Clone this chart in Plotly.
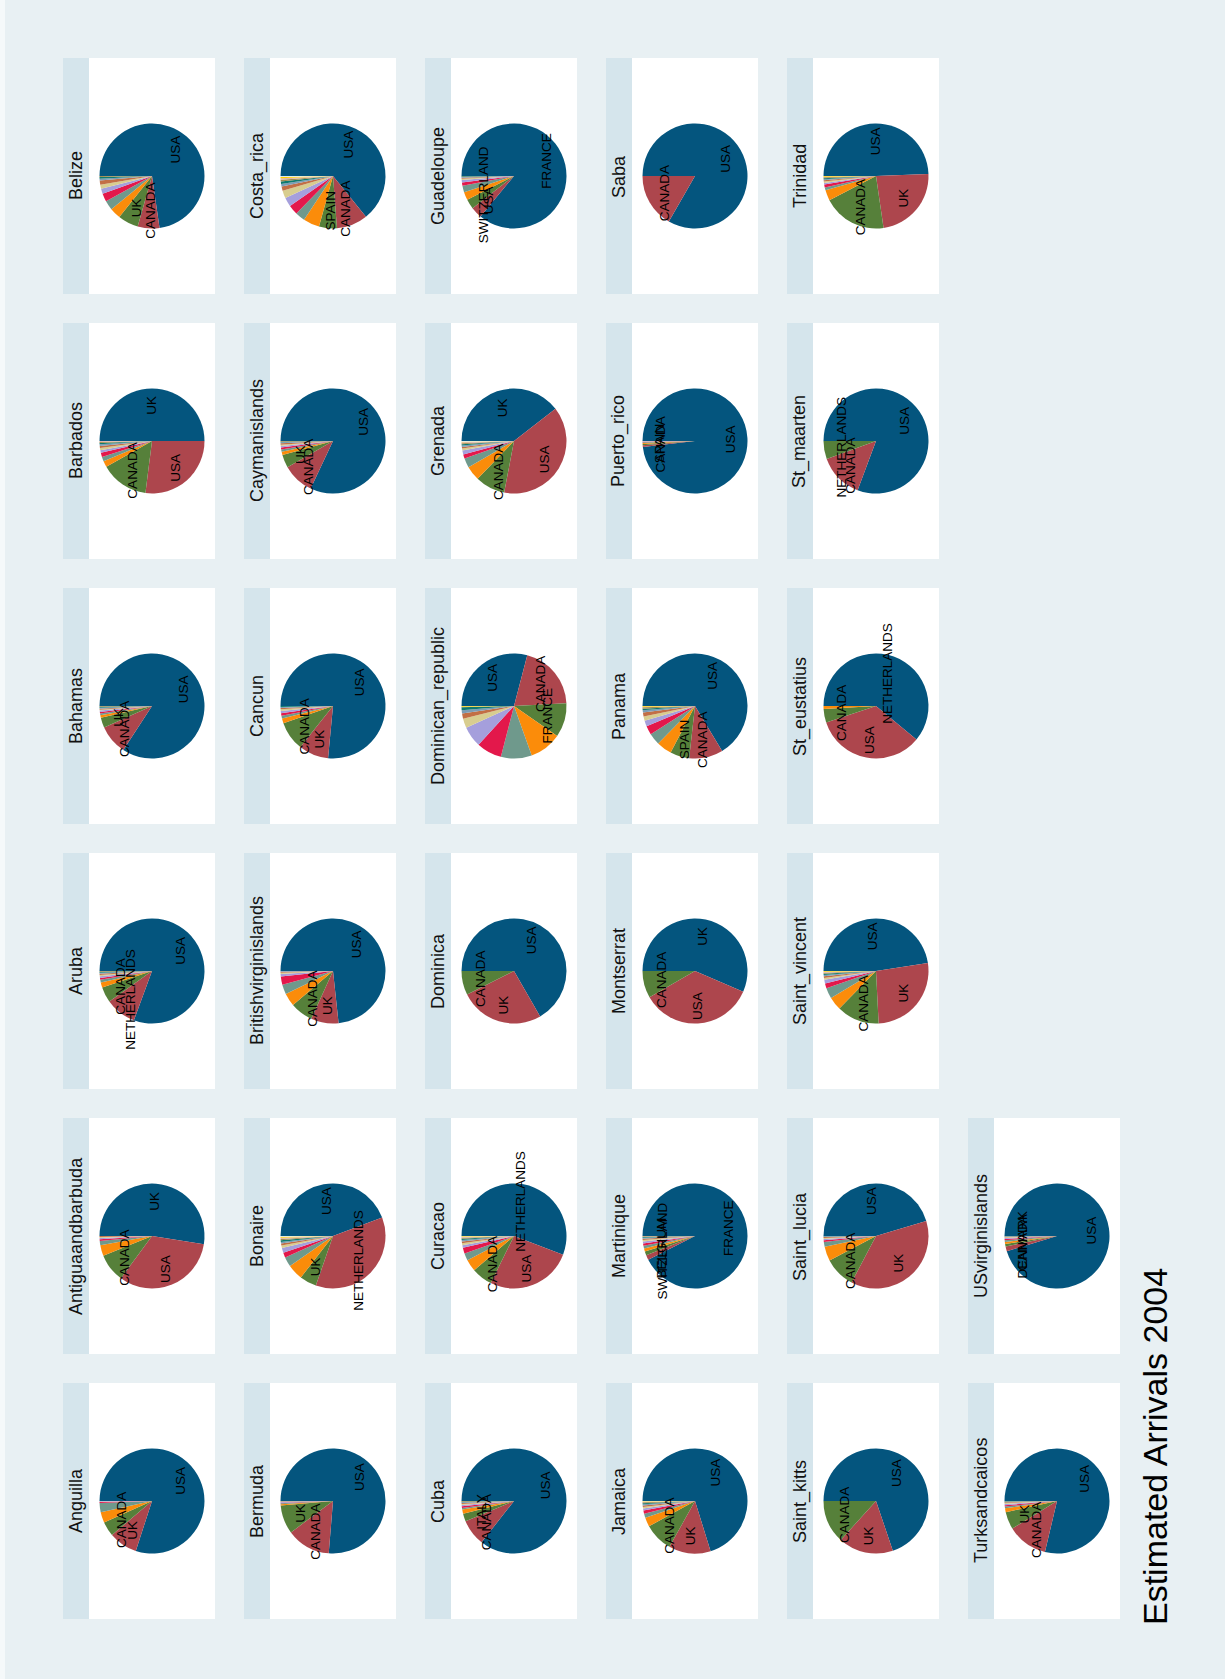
import math
import plotly.graph_objects as go

# ---------------- data ----------------
islands = [
    "Anguilla", "Antiguaandbarbuda", "Aruba", "Bahamas", "Barbados", "Belize",
    "Bermuda", "Bonaire", "Britishvirginislands", "Cancun", "Caymanislands", "Costa_rica",
    "Cuba", "Curacao", "Dominica", "Dominican_republic", "Grenada", "Guadeloupe",
    "Jamaica", "Martinique", "Montserrat", "Panama", "Puerto_rico", "Saba",
    "Saint_kitts", "Saint_lucia", "Saint_vincent", "St_eustatius", "St_maarten", "Trinidad",
    "Turksandcaicos", "USvirginislands",
]

# names of the three largest source countries (slice 1, 2, 3) in each pie
top_labels = [
    ["USA", "UK", "CANADA"], ["UK", "USA", "CANADA"], ["USA", "NETHERLANDS", "CANADA"],
    ["USA", "CANADA", "UK"], ["UK", "USA", "CANADA"], ["USA", "CANADA", "UK"],
    ["USA", "CANADA", "UK"], ["USA", "NETHERLANDS", "UK"], ["USA", "UK", "CANADA"],
    ["USA", "UK", "CANADA"], ["USA", "CANADA", "UK"], ["USA", "CANADA", "SPAIN"],
    ["USA", "CANADA", "ITALY"], ["NETHERLANDS", "USA", "CANADA"], ["USA", "UK", "CANADA"],
    ["USA", "CANADA", "FRANCE"], ["UK", "USA", "CANADA"], ["FRANCE", "USA", "SWITZERLAND"],
    ["USA", "UK", "CANADA"], ["FRANCE", "SWITZERLAND", "BELGIUM"], ["UK", "USA", "CANADA"],
    ["USA", "CANADA", "SPAIN"], ["USA", "CANADA", "SPAIN"], ["USA", "CANADA"],
    ["USA", "UK", "CANADA"], ["USA", "UK", "CANADA"], ["USA", "UK", "CANADA"],
    ["NETHERLANDS", "USA", "CANADA"], ["USA", "CANADA", "NETHERLANDS"], ["USA", "UK", "CANADA"],
    ["USA", "CANADA", "UK"], ["USA", "DENMARK", "CANADA"],
]

# estimated share of arrivals by source country, largest first
shares_anguilla = [0.800, 0.088, 0.045, 0.033, 0.028, 0.003, 0.002, 0.001]
shares_antigua = [0.525, 0.326, 0.088, 0.033, 0.013, 0.005, 0.004, 0.003, 0.003]
shares_aruba = [0.806, 0.095, 0.048, 0.016, 0.008, 0.006, 0.005, 0.004, 0.004, 0.003, 0.003, 0.002]
shares_bahamas = [0.842, 0.091, 0.031, 0.008, 0.005, 0.005, 0.004, 0.003, 0.003, 0.003, 0.003, 0.002]
shares_barbados = [0.500, 0.270, 0.148, 0.019, 0.014, 0.013, 0.008, 0.007, 0.006, 0.005, 0.004, 0.003, 0.003]
shares_belize = [0.727, 0.067, 0.063, 0.034, 0.029, 0.025, 0.016, 0.0125, 0.0125, 0.006, 0.005, 0.003]
shares_bermuda = [0.763, 0.135, 0.088, 0.004, 0.003, 0.002, 0.002, 0.001, 0.001, 0.001]
shares_bonaire = [0.443, 0.360, 0.052, 0.048, 0.030, 0.015, 0.015, 0.008, 0.006, 0.005, 0.005, 0.004, 0.004, 0.003, 0.002]
shares_bvi = [0.733, 0.085, 0.070, 0.040, 0.030, 0.025, 0.008, 0.004, 0.003, 0.002]
shares_cancun = [0.765, 0.092, 0.090, 0.015, 0.008, 0.008, 0.007, 0.005, 0.004, 0.003, 0.003]
shares_cayman = [0.820, 0.097, 0.040, 0.010, 0.007, 0.006, 0.005, 0.004, 0.004, 0.003, 0.002, 0.002]
shares_costa_rica = [0.642, 0.096, 0.055, 0.050, 0.030, 0.030, 0.028, 0.024, 0.013, 0.008, 0.007, 0.006, 0.004, 0.004, 0.003]
shares_cuba = [0.856, 0.081, 0.024, 0.013, 0.005, 0.005, 0.004, 0.003, 0.003, 0.002, 0.002, 0.002]
shares_curacao = [0.558, 0.265, 0.064, 0.037, 0.022, 0.018, 0.008, 0.006, 0.005, 0.005, 0.004, 0.003, 0.002, 0.002, 0.001]
shares_dominica = [0.667, 0.259, 0.074]
shares_dominican_rep = [0.291, 0.201, 0.105, 0.099, 0.095, 0.078, 0.064, 0.029, 0.016, 0.010, 0.009, 0.001, 0.001, 0.002]
shares_grenada = [0.395, 0.385, 0.092, 0.045, 0.029, 0.013, 0.012, 0.006, 0.005, 0.004, 0.004, 0.003, 0.003, 0.002, 0.002]
shares_guadeloupe = [0.860, 0.035, 0.030, 0.025, 0.020, 0.010, 0.008, 0.004, 0.003, 0.002, 0.002, 0.001]
shares_jamaica = [0.702, 0.129, 0.089, 0.028, 0.013, 0.010, 0.006, 0.005, 0.004, 0.004, 0.003, 0.003, 0.002, 0.001, 0.001]
shares_martinique = [0.925, 0.015, 0.012, 0.010, 0.008, 0.007, 0.006, 0.005, 0.004, 0.003, 0.002, 0.002, 0.001]
shares_montserrat = [0.565, 0.352, 0.083]
shares_panama = [0.663, 0.104, 0.059, 0.047, 0.036, 0.027, 0.018, 0.013, 0.012, 0.007, 0.005, 0.004, 0.002, 0.002]
shares_puerto_rico = [0.982, 0.005, 0.004, 0.003, 0.002, 0.002, 0.001, 0.001]
shares_saba = [0.833, 0.167]
shares_saint_kitts = [0.698, 0.169, 0.133]
shares_saint_lucia = [0.454, 0.374, 0.096, 0.044, 0.015, 0.005, 0.004, 0.003, 0.003, 0.002, 0.001]
shares_saint_vincent = [0.476, 0.266, 0.131, 0.041, 0.033, 0.015, 0.011, 0.006, 0.005, 0.004, 0.004, 0.003, 0.003, 0.002]
shares_st_eustatius = [0.610, 0.339, 0.042, 0.009]
shares_st_maarten = [0.807, 0.137, 0.056]
shares_trinidad = [0.494, 0.233, 0.197, 0.032, 0.009, 0.009, 0.005, 0.004, 0.004, 0.003, 0.003, 0.003, 0.002, 0.002]
shares_turks = [0.787, 0.125, 0.054, 0.012, 0.005, 0.004, 0.004, 0.003, 0.002, 0.002, 0.001, 0.001]
shares_usvi = [0.953, 0.015, 0.008, 0.006, 0.005, 0.004, 0.003, 0.002, 0.002, 0.001, 0.001]

shares = [
    shares_anguilla, shares_antigua, shares_aruba, shares_bahamas, shares_barbados, shares_belize,
    shares_bermuda, shares_bonaire, shares_bvi, shares_cancun, shares_cayman, shares_costa_rica,
    shares_cuba, shares_curacao, shares_dominica, shares_dominican_rep, shares_grenada, shares_guadeloupe,
    shares_jamaica, shares_martinique, shares_montserrat, shares_panama, shares_puerto_rico, shares_saba,
    shares_saint_kitts, shares_saint_lucia, shares_saint_vincent, shares_st_eustatius, shares_st_maarten,
    shares_trinidad, shares_turks, shares_usvi,
]

title_text = "Estimated Arrivals 2004"

# ---------------- styling ----------------
slice_colors = ["#04557e", "#ad464d", "#56803a", "#fb8c0a", "#6f998c", "#e3184b", "#a59fdc",
                "#d8cd8f", "#c26f45", "#7c9db6", "#0f7a6f", "#a08c4f", "#e0b5aa", "#ffd200", "#dde9ee"]
BG = "#e8f0f3"
STRIP = "#d5e5ec"
FONT = "Liberation Sans, Arial, sans-serif"

W, H = 1225, 1679
COL0, COLSTEP = 63, 181
ROW0, ROWSTEP = 58, 265
STRIP_W, PANEL_W, PANEL_H = 26, 126, 236
R = 52.5
LABEL_R = 0.67 * R


def fx(x):
    return x / W


def fy(y):
    return 1 - y / H


fig = go.Figure()
shapes = [dict(type="rect", xref="paper", yref="paper", x0=0, x1=fx(5), y0=0, y1=1,
               fillcolor="#f5f9fa", line_width=0, layer="below")]
annotations = []

for i, (name, vals, labs) in enumerate(zip(islands, shares, top_labels)):
    c = i // 6          # the whole graph is rotated by 90 degrees
    r = 5 - i % 6
    x0 = COL0 + c * COLSTEP
    y0 = ROW0 + r * ROWSTEP
    shapes.append(dict(type="rect", xref="paper", yref="paper",
                       x0=fx(x0), x1=fx(x0 + STRIP_W), y0=fy(y0 + PANEL_H), y1=fy(y0),
                       fillcolor=STRIP, line_width=0, layer="below"))
    shapes.append(dict(type="rect", xref="paper", yref="paper",
                       x0=fx(x0 + STRIP_W), x1=fx(x0 + STRIP_W + PANEL_W), y0=fy(y0 + PANEL_H), y1=fy(y0),
                       fillcolor="white", line_width=0, layer="below"))
    cx = x0 + STRIP_W + PANEL_W / 2
    cy = y0 + PANEL_H / 2
    annotations.append(dict(x=fx(x0 + STRIP_W / 2), y=fy(cy), xref="paper", yref="paper",
                            text=name, textangle=-90, showarrow=False,
                            xanchor="center", yanchor="middle",
                            font=dict(family=FONT, size=18, color="#111111")))
    slice_names = [labs[k] if k < len(labs) else f"other {k + 1}" for k in range(len(vals))]
    fig.add_trace(go.Pie(
        values=vals, labels=slice_names, sort=False, direction="clockwise", rotation=-90,
        marker=dict(colors=slice_colors[:len(vals)], line=dict(width=0)),
        textinfo="none", hoverinfo="label+percent", showlegend=False, name=name,
        domain=dict(x=[fx(cx - R), fx(cx + R)], y=[fy(cy + R), fy(cy - R)]),
    ))
    total = sum(vals)
    cum = 0.0
    for k, v in enumerate(vals):
        start, cum = cum, cum + v / total
        if k < len(labs):
            theta = math.radians(360 * (start + cum) / 2)
            lx = cx - LABEL_R * math.cos(theta)
            ly = cy - LABEL_R * math.sin(theta)
            annotations.append(dict(x=fx(lx), y=fy(ly), xref="paper", yref="paper",
                                    text=labs[k], textangle=-90, showarrow=False,
                                    xanchor="center", yanchor="middle",
                                    font=dict(family=FONT, size=13.5, color="black")))

annotations.append(dict(x=fx(1155), y=fy(1447), xref="paper", yref="paper",
                        text=title_text, textangle=-90, showarrow=False,
                        xanchor="center", yanchor="middle",
                        font=dict(family=FONT, size=34, color="black")))

fig.update_layout(
    width=W, height=H, autosize=False,
    margin=dict(l=0, r=0, t=0, b=0),
    paper_bgcolor=BG, plot_bgcolor=BG,
    shapes=shapes, annotations=annotations,
    showlegend=False,
)

fig.write_html("out.html", config={"displayModeBar": False},
               post_script="document.body.style.margin='0px';document.body.style.overflow='hidden';")
